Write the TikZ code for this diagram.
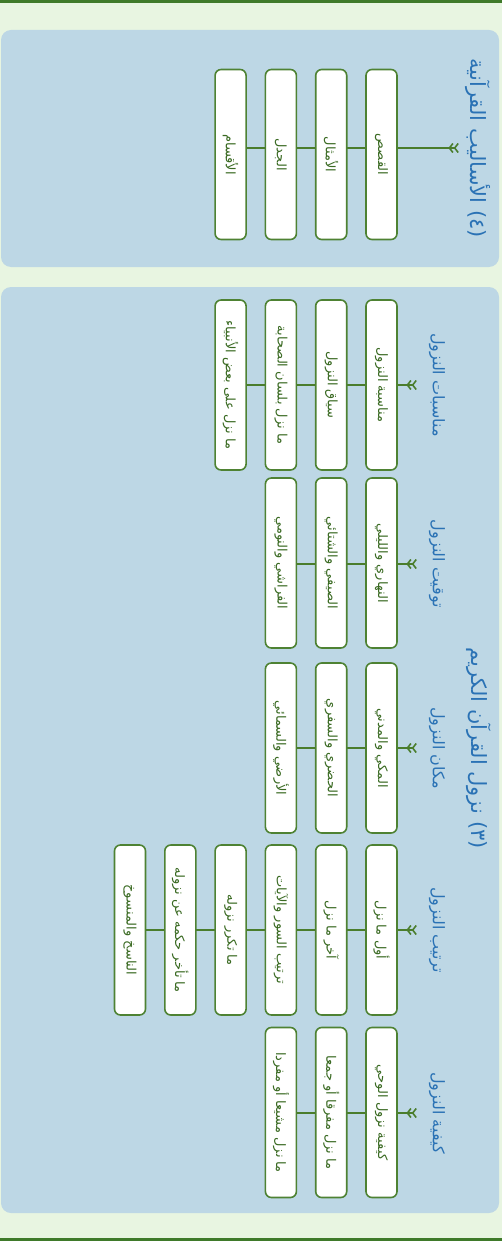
\documentclass[tikz,border=0pt]{standalone}
\usepackage{fontspec}
\newfontfamily\arabicfont[Script=Arabic]{DejaVu Sans}
\TeXXeTstate=1
\usetikzlibrary{arrows.meta}
\definecolor{bgc}{HTML}{E8F5E1}
\definecolor{stripec}{HTML}{3F7A2A}
\definecolor{panelc}{HTML}{BDD7E5}
\definecolor{boxgreen}{HTML}{4E8233}
\definecolor{linegreen}{HTML}{4A7D2C}
\definecolor{txtgreen}{HTML}{3A6A22}
\definecolor{headblue}{HTML}{2A72B5}
\newcommand\artext[1]{{\arabicfont\beginR #1\endR}}
\tikzset{
  boxnode/.style={draw=boxgreen, line width=1.6pt, fill=white, rounded corners=6pt,
    rotate=-90, minimum width=170pt, minimum height=31pt, inner sep=0pt,
    font=\fontsize{13}{15}\selectfont, text=txtgreen},
  conn/.style={draw=linegreen, line width=2pt},
  chev/.style={conn, {Straight Barb[reversed,length=3.5pt,width=9pt,line width=1.6pt] Straight Barb[reversed,length=3.5pt,width=9pt,line width=1.6pt]}-},
  headnode/.style={rotate=-90, text=headblue, font=\fontsize{16}{18}\selectfont, inner sep=0pt},
  titlenode/.style={rotate=-90, text=headblue, font=\fontsize{21}{24}\selectfont, inner sep=0pt}
}
\begin{document}
\begin{tikzpicture}[x=1pt,y=1pt]
\useasboundingbox (0,0) rectangle (502,-1241);
\fill[bgc] (0,0) rectangle (502,-1241);
\fill[stripec] (0,0) rectangle (502,-3);
\fill[stripec] (0,-1238) rectangle (502,-1241);
\fill[panelc, rounded corners=10pt] (1,-30) rectangle (499,-267);
\fill[panelc, rounded corners=10pt] (1,-287) rectangle (499,-1213);

% ---------- Section 4 ----------
\node[titlenode] (t4) at (478,-148) {\artext{\beginL(٤)\endL{} الأساليب القرآنية}};
\coordinate (h4) at (459,-148);
\coordinate (e4) at (230.6,-148);
\draw[chev] (h4) -- (e4);
\foreach \t [count=\i] in {القصص,الأمثال,الجدل,الأقسام}
  \node[boxnode] (q\i) at ({381.5-50.3*(\i-1)},-154.5) {\artext{\t}};

% ---------- Section 3 ----------
\node[titlenode] (t3) at (479,-748) {\artext{\beginL(٣)\endL{} نزول القرآن الكريم}};

% A
\node[headnode] (ha) at (437,-385) {\artext{مناسبات النزول}};
\coordinate (ca) at (417,-385);
\coordinate (ea) at (230.6,-385);
\draw[chev] (ca) -- (ea);
\foreach \t [count=\i] in {مناسبة النزول,سياق النزول,ما نزل بلسان الصحابة,ما نزل على بعض الأنبياء}
  \node[boxnode] (a\i) at ({381.5-50.3*(\i-1)},-385) {\artext{\t}};

% B
\node[headnode] (hb) at (437,-564) {\artext{توقيت النزول}};
\coordinate (cb) at (417,-564);
\coordinate (eb) at (280.9,-564);
\draw[chev] (cb) -- (eb);
\foreach \t [count=\i] in {النهاري والليلي,الصيفي والشتائي,الفراشي والنومي}
  \node[boxnode] (b\i) at ({381.5-50.3*(\i-1)},-563) {\artext{\t}};

% C
\node[headnode] (hc) at (437,-748) {\artext{مكان النزول}};
\coordinate (cc) at (417,-748);
\coordinate (ec) at (280.9,-748);
\draw[chev] (cc) -- (ec);
\foreach \t [count=\i] in {المكي والمدني,الحضري والسفري,الأرضي والسمائي}
  \node[boxnode] (c\i) at ({381.5-50.3*(\i-1)},-748) {\artext{\t}};

% D
\node[headnode] (hd) at (437,-930) {\artext{ترتيب النزول}};
\coordinate (cd) at (417,-930);
\coordinate (ed) at (130,-930);
\draw[chev] (cd) -- (ed);
\foreach \t [count=\i] in {أول ما نزل,آخر ما نزل,ترتيب السور والآيات,ما تكرر نزوله,ما تأخر حكمه عن نزوله,الناسخ والمنسوخ}
  \node[boxnode] (d\i) at ({381.5-50.3*(\i-1)},-930) {\artext{\t}};

% E
\node[headnode] (he) at (437,-1113) {\artext{كيفية النزول}};
\coordinate (ce) at (417,-1113);
\coordinate (ee) at (280.9,-1113);
\draw[chev] (ce) -- (ee);
\foreach \t [count=\i] in {كيفية نزول الوحي,ما نزل مفرقا أو جمعا,ما نزل مشيعا أو مفردا}
  \node[boxnode] (e\i) at ({381.5-50.3*(\i-1)},-1112.5) {\artext{\t}};
\end{tikzpicture}
\end{document}
